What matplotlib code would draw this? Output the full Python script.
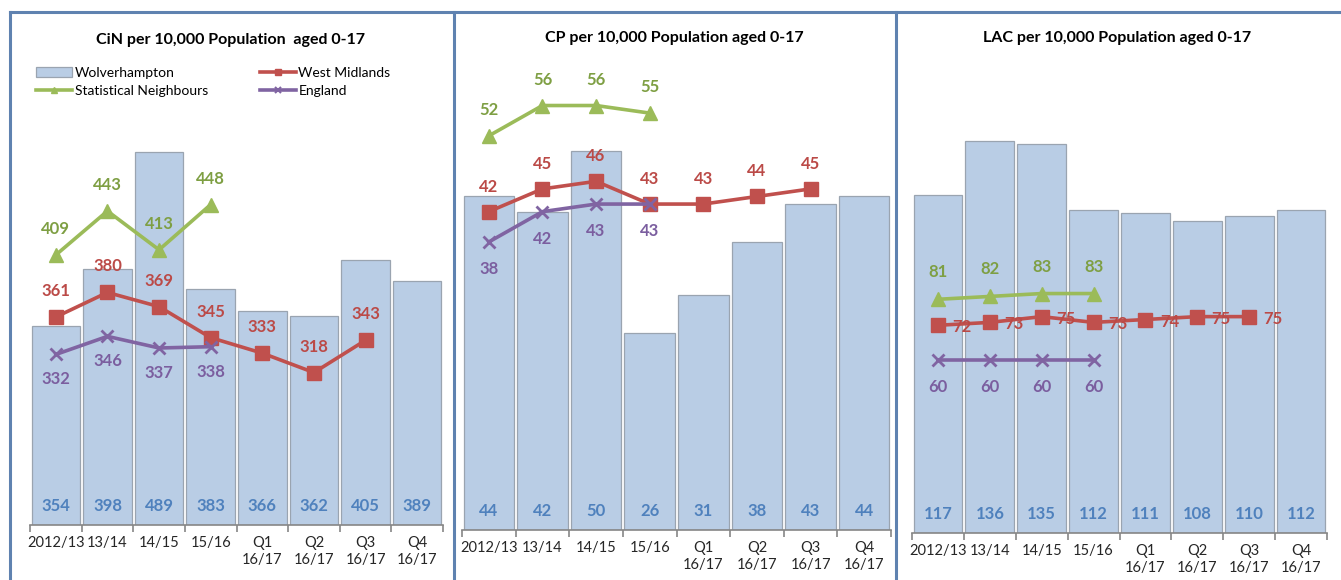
import matplotlib
matplotlib.use("Agg")
import matplotlib.pyplot as plt
from matplotlib.patches import Patch
from matplotlib.lines import Line2D
import numpy as np

plt.rcParams['font.family'] = ['Lato', 'DejaVu Sans']

categories = ['2012/13', '13/14', '14/15', '15/16', 'Q1\n16/17', 'Q2\n16/17', 'Q3\n16/17', 'Q4\n16/17']

titles = ['CiN per 10,000 Population  aged 0-17',
          'CP per 10,000 Population aged 0-17',
          'LAC per 10,000 Population aged 0-17']

cin_wolv = [354, 398, 489, 383, 366, 362, 405, 389]
cin_wm = [361, 380, 369, 345, 333, 318, 343]
cin_sn = [409, 443, 413, 448]
cin_eng = [332, 346, 337, 338]

cp_wolv = [44, 42, 50, 26, 31, 38, 43, 44]
cp_wm = [42, 45, 46, 43, 43, 44, 45]
cp_sn = [52, 56, 56, 55]
cp_eng = [38, 42, 43, 43]

lac_wolv = [117, 136, 135, 112, 111, 108, 110, 112]
lac_wm = [72, 73, 75, 73, 74, 75, 75]
lac_sn = [81, 82, 83, 83]
lac_eng = [60, 60, 60, 60]

W, H = 1341, 580
fig = plt.figure(figsize=(W / 100, H / 100), dpi=100)

BAR_FILL = '#B9CDE5'
BAR_EDGE = '#9AA4B0'
BAR_LBL = '#4F81BD'
WM_C = '#C0504D'
SN_C = '#9BBB59'
SN_LBL = '#7E9F43'
ENG_C = '#8064A2'
ENG_LBL = '#7B5E9F'
WM_LBL = '#BB4A47'


def px_axes(left, right, bottom, top):
    return fig.add_axes([left / W, 1 - bottom / H, (right - left) / W, (bottom - top) / H])


panels = [
    dict(box=(30, 443, 525, 60), ylim=(200, 200 + 465 / 1.292), title_xy=(230, 40),
         wolv=cin_wolv, wm=cin_wm, sn=cin_sn, eng=cin_eng,
         wm_off=(0, 26), sn_off=(0, 26), eng_off=(0, -25)),
    dict(box=(462, 891, 530, 60), ylim=(0, 470 / 7.58), title_xy=(674, 38),
         wolv=cp_wolv, wm=cp_wm, sn=cp_sn, eng=cp_eng,
         wm_off=(0, 25), sn_off=(0, 26), eng_off=(0, -27)),
    dict(box=(912, 1327, 533, 60), ylim=(0, 473 / 2.885), title_xy=(1117, 38),
         wolv=lac_wolv, wm=lac_wm, sn=lac_sn, eng=lac_eng,
         wm_off=(24, -2), sn_off=(0, 27), eng_off=(0, -27)),
]

x = np.arange(len(categories))
for p, title in zip(panels, titles):
    ax = px_axes(*p['box'])
    ax.set_xlim(-0.5, 7.5)
    ax.set_ylim(*p['ylim'])
    ax.patch.set_alpha(0)
    for s in ['top', 'right', 'left']:
        ax.spines[s].set_visible(False)
    ax.spines['bottom'].set_color('#868686')
    ax.spines['bottom'].set_linewidth(1.2)
    ax.set_yticks([])
    ax.set_xticks(x)
    ax.set_xticklabels(categories, fontsize=10.5, color='#262626', linespacing=1.25)
    ax.tick_params(axis='x', which='major', length=0, pad=8)
    ax.set_xticks(np.arange(-0.5, 8, 1), minor=True)
    ax.tick_params(axis='x', which='minor', length=5, color='#868686', width=1.2)

    ax.bar(x, p['wolv'], width=0.94, color=BAR_FILL, edgecolor=BAR_EDGE, linewidth=0.9,
           bottom=0, zorder=1)
    for xi, v in zip(x, p['wolv']):
        ax.annotate(f'{v}', xy=(xi, p['ylim'][0]), xytext=(0, 19), textcoords='offset pixels',
                    ha='center', va='center', fontsize=12, fontweight='bold', color=BAR_LBL)

    series = [(p['sn'], SN_C, SN_LBL, '^', 10, p['sn_off']),
              (p['wm'], WM_C, WM_LBL, 's', 10, p['wm_off']),
              (p['eng'], ENG_C, ENG_LBL, 'x', 9, p['eng_off'])]
    for vals, col, lcol, mk, ms, off in series:
        xs = np.arange(len(vals))
        ax.plot(xs, vals, color=col, lw=2.6, marker=mk, ms=ms, mew=2 if mk == 'x' else 1,
                mec=col, mfc=col, zorder=3, clip_on=False)
        for xi, v in zip(xs, vals):
            ax.annotate(f'{v}', xy=(xi, v), xytext=off, textcoords='offset pixels',
                        ha='center', va='center', fontsize=12, fontweight='bold', color=lcol,
                        zorder=4)

    fig.text(p['title_xy'][0] / W, 1 - p['title_xy'][1] / H, title, ha='center', va='center',
             fontsize=11.5, fontweight='bold', color='#000000')

# legend in first panel
handles = [Patch(facecolor=BAR_FILL, edgecolor=BAR_EDGE, linewidth=0.9),
           Line2D([], [], color=SN_C, lw=2.6, marker='^', ms=5),
           Line2D([], [], color=WM_C, lw=2.6, marker='s', ms=5),
           Line2D([], [], color=ENG_C, lw=2.6, marker='x', ms=5, mew=1.5)]
labels = ['Wolverhampton', 'Statistical Neighbours', 'West Midlands', 'England']
fig.legend(handles, labels, ncol=2, loc='upper left',
           bbox_to_anchor=(36 / W, 1 - 67 / H), frameon=False, fontsize=10,
           handlelength=2.6, handletextpad=0.2, columnspacing=3.7, labelspacing=0.45,
           borderaxespad=0, borderpad=0)

# panel borders
border = '#5F82B0'
fig.add_artist(Line2D([10 / W, 1], [1 - 12 / H, 1 - 12 / H], color=border, lw=2.2,
                      transform=fig.transFigure))
for bx in [10, 454, 896]:
    fig.add_artist(Line2D([bx / W, bx / W], [0, 1 - 12 / H], color=border, lw=2.2,
                          transform=fig.transFigure))

fig.savefig('out.png', dpi=100)
